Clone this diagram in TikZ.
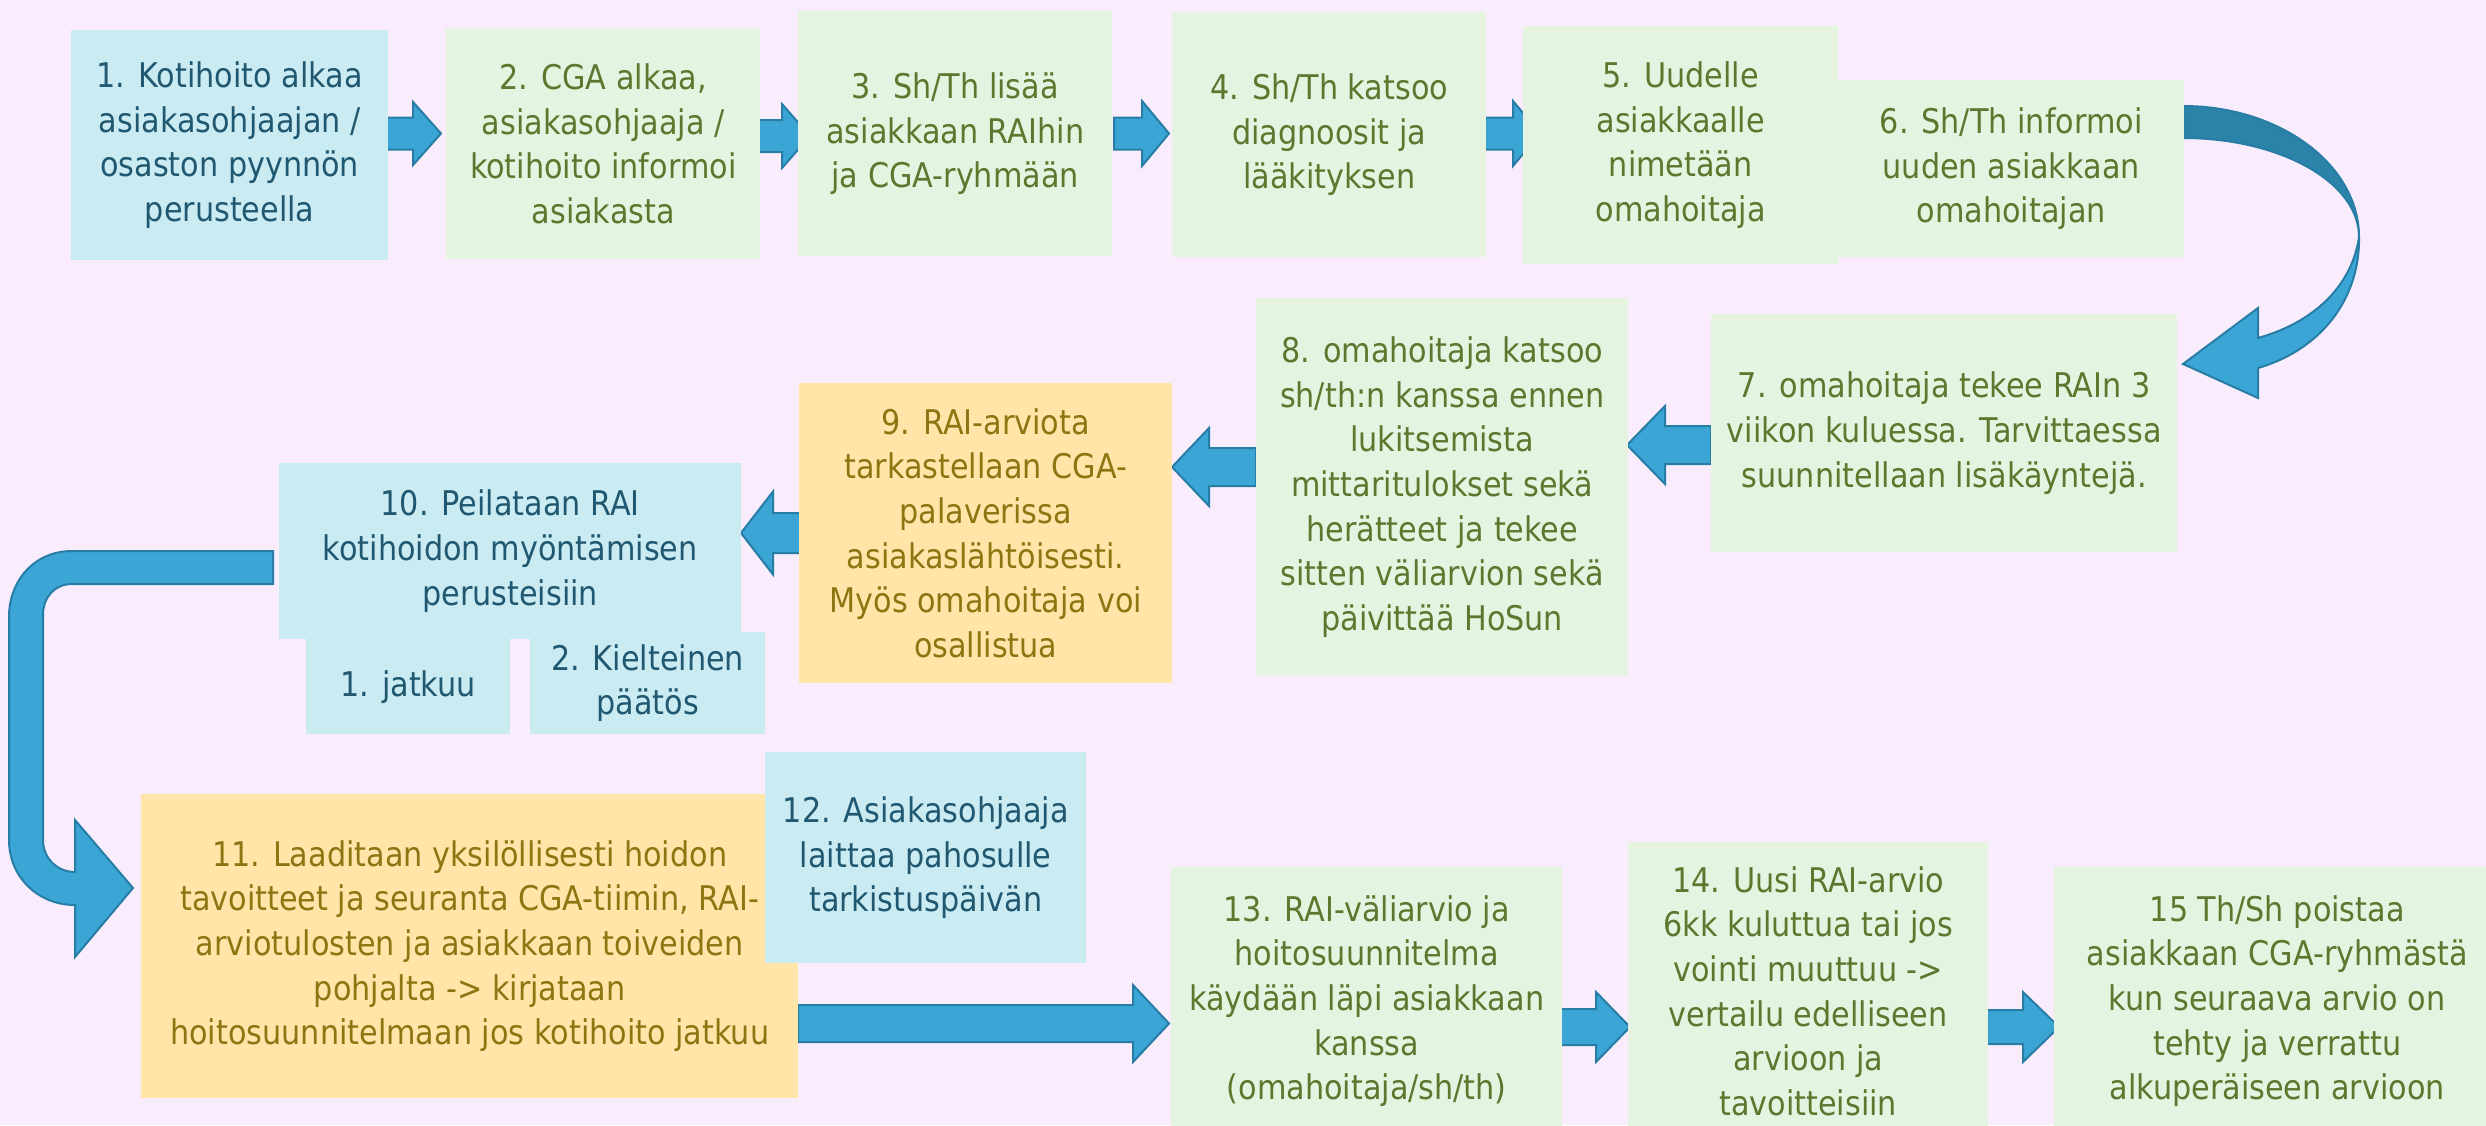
\documentclass[tikz,border=0pt]{standalone}
\usepackage{fontspec}
\setmainfont{DejaVu Sans}[FakeStretch=0.89]
\definecolor{pagebg}{HTML}{F9EDFD}
\definecolor{boxblue}{HTML}{CBEBF2}
\definecolor{boxgreen}{HTML}{E5F4E1}
\definecolor{boxyellow}{HTML}{FFE5A8}
\definecolor{txtblue}{HTML}{1F5870}
\definecolor{txtgreen}{HTML}{5E762E}
\definecolor{txtyellow}{HTML}{8B7612}
\definecolor{arrowfill}{HTML}{3BA6D6}
\definecolor{arrowdark}{HTML}{2B83AA}
\definecolor{arrowline}{HTML}{287DA5}
\newcommand\boxfont{\fontsize{34}{44.7}\selectfont}
% block arrow: shaft start, head base, tip, centre y, shaft half height, head half height
\newcommand\blockarrow[6]{%
  \filldraw[arrowbody] (#1,#4-#5) -- (#2,#4-#5) -- (#2,#4-#6) -- (#3,#4)
    -- (#2,#4+#6) -- (#2,#4+#5) -- (#1,#4+#5) -- cycle;}
\tikzset{
  box/.style={anchor=north west, inner sep=0pt, align=center, font=\boxfont},
  bbox/.style={box, fill=boxblue, text=txtblue},
  gbox/.style={box, fill=boxgreen, text=txtgreen},
  ybox/.style={box, fill=boxyellow, text=txtyellow},
  arrowbody/.style={fill=arrowfill, draw=arrowline, line width=2pt, line join=miter},
}
\begin{document}
\begin{tikzpicture}[x=1pt,y=-1pt]
\useasboundingbox (0,0) rectangle (2486,1125);
\clip (0,0) rectangle (2486,1125);
\fill[pagebg] (0,0) rectangle (2486,1125);

% straight block arrows, top row
\blockarrow{386}{413}{441}{133.5}{16}{31.5}
\blockarrow{755}{782}{810}{136}{16}{32}
\blockarrow{1114}{1142}{1169}{133.5}{16}{32.5}
\blockarrow{1485}{1513}{1540}{133.5}{16}{32.5}
% middle row, pointing left
\blockarrow{1711}{1665}{1627}{445}{19}{39}
\blockarrow{1256}{1209}{1172}{467}{19}{39}
\blockarrow{805}{773}{741}{533}{20}{41.5}
% bottom row
\blockarrow{798}{1133}{1169}{1023.5}{18.5}{38.5}
\blockarrow{1559}{1596}{1630}{1027}{18}{35}
\blockarrow{1987}{2023}{2059}{1027}{17}{35}

% U-turn arrow from step 6 down to step 7
\filldraw[fill=arrowdark, draw=arrowline, line width=2pt]
  (2183,106) .. controls (2280,106) and (2359,165) .. (2359,237)
  .. controls (2359,182) and (2280,138) .. (2183,138) -- cycle;
\filldraw[arrowbody]
  (2359,237) .. controls (2360,300) and (2320,350) .. (2258,368)
  -- (2258,398) -- (2183,364) -- (2258,308) -- (2258,338)
  .. controls (2315,322) and (2352,285) .. (2359,237) -- cycle;

% bent arrow from step 10 down to step 11
\filldraw[arrowbody]
  (273,551) -- (72,551) .. controls (35,551) and (9,580) .. (9,617)
  -- (9,840) .. controls (9,877) and (38,905) .. (75,905)
  -- (75,957) -- (133,888) -- (75,820) -- (75,872)
  .. controls (57,872) and (43,858) .. (43,840)
  -- (43,615) .. controls (43,597) and (55,584) .. (72,584)
  -- (273,584) -- cycle;

% process steps
\node[bbox, minimum width=317pt, minimum height=230pt] (b1) at (71,30)
  {1. Kotihoito alkaa\\asiakasohjaajan /\\osaston pyynnön\\perusteella};
\node[gbox, minimum width=314pt, minimum height=231pt] (b2) at (446,28)
  {2. CGA alkaa,\\asiakasohjaaja /\\kotihoito informoi\\asiakasta};
\node[gbox, minimum width=314pt, minimum height=245pt] (b3) at (798,11)
  {3. Sh/Th lisää\\asiakkaan RAIhin\\ja CGA-ryhmään};
\node[gbox, minimum width=314pt, minimum height=245pt] (b4) at (1172,12)
  {4. Sh/Th katsoo\\diagnoosit ja\\lääkityksen};
\node[gbox, minimum width=315pt, minimum height=238pt] (b5) at (1523,26)
  {5. Uudelle\\asiakkaalle\\nimetään\\omahoitaja};
\node[gbox, minimum width=346pt, minimum height=177pt] (b6) at (1838,80)
  {6. Sh/Th informoi\\uuden asiakkaan\\omahoitajan};
\node[gbox, minimum width=466pt, minimum height=238pt] (b7) at (1711,314)
  {7. omahoitaja tekee RAIn 3\\viikon kuluessa. Tarvittaessa\\suunnitellaan lisäkäyntejä.};
\node[gbox, minimum width=372pt, minimum height=378pt] (b8) at (1256,298)
  {8. omahoitaja katsoo\\sh/th:n kanssa ennen\\lukitsemista\\mittaritulokset sekä\\herätteet ja tekee\\sitten väliarvion sekä\\päivittää HoSun};
\node[ybox, minimum width=373pt, minimum height=300pt] (b9) at (799,383)
  {9. RAI-arviota\\tarkastellaan CGA-\\palaverissa\\asiakaslähtöisesti.\\Myös omahoitaja voi\\osallistua};
\node[bbox, minimum width=462pt, minimum height=176pt] (b10) at (279,463)
  {10. Peilataan RAI\\kotihoidon myöntämisen\\perusteisiin};
\node[bbox, minimum width=204pt, minimum height=95pt] (s1) at (306,639)
  {1. jatkuu};
\node[bbox, minimum width=235pt, minimum height=102pt] (s2) at (530,632)
  {2. Kielteinen\\päätös};
\node[ybox, minimum width=657pt, minimum height=304pt] (b11) at (141,794)
  {11. Laaditaan yksilöllisesti hoidon\\tavoitteet ja seuranta CGA-tiimin, RAI-\\arviotulosten ja asiakkaan toiveiden\\pohjalta -> kirjataan\\hoitosuunnitelmaan jos kotihoito jatkuu};
\node[bbox, minimum width=321pt, minimum height=211pt] (b12) at (765,752)
  {12. Asiakasohjaaja\\laittaa pahosulle\\tarkistuspäivän};
\node[gbox, minimum width=391pt, minimum height=268pt] (b13) at (1171,867)
  {13. RAI-väliarvio ja\\hoitosuunnitelma\\käydään läpi asiakkaan\\kanssa\\(omahoitaja/sh/th)};
\node[gbox, minimum width=360pt, minimum height=298pt] (b14) at (1628,842)
  {14. Uusi RAI-arvio\\6kk kuluttua tai jos\\vointi muuttuu ->\\vertailu edelliseen\\arvioon ja\\tavoitteisiin};
\node[gbox, minimum width=446pt, minimum height=268pt] (b15) at (2054,867)
  {15 Th/Sh poistaa\\asiakkaan CGA-ryhmästä\\kun seuraava arvio on\\tehty ja verrattu\\alkuperäiseen arvioon};
\end{tikzpicture}
\end{document}
